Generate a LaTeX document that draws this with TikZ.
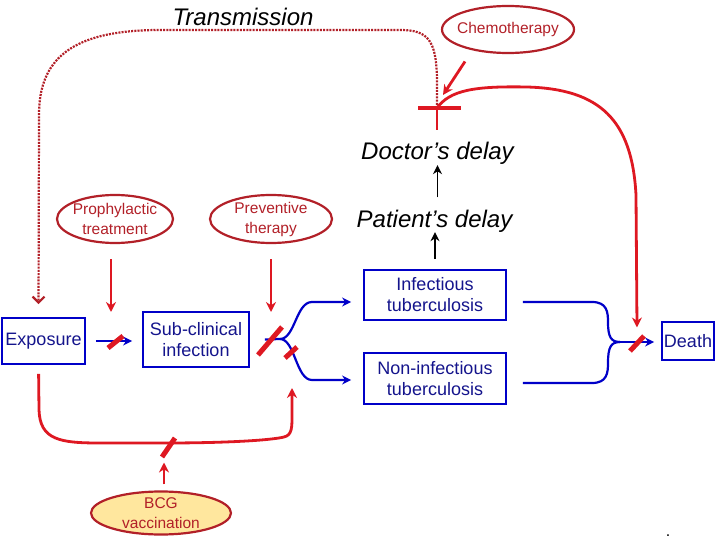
\documentclass[tikz,border=0pt]{standalone}
\usepackage{fontspec}
\setmainfont{Liberation Sans}
\usetikzlibrary{shapes.geometric,arrows.meta}
\definecolor{stageblue}{RGB}{0,0,200}
\definecolor{stagetext}{RGB}{20,20,140}
\definecolor{cutred}{RGB}{222,24,34}
\definecolor{ovalred}{RGB}{178,32,40}
\definecolor{bcgyellow}{RGB}{255,231,158}
\newcommand{\delayFont}[0]{\fontsize{24}{28}\selectfont\itshape}
\newcommand{\stageFont}[0]{\fontsize{18}{21}\selectfont}
\newcommand{\ovalFont}[0]{\fontsize{15.5}{20}\selectfont}

\begin{document}
\begin{tikzpicture}[x=1pt, y=-1pt]
  \tikzset{
    stage/.style={draw=stageblue, line width=1.8pt, text=stagetext, font=\stageFont, align=center, inner sep=0pt},
    oval/.style={ellipse, draw=ovalred, line width=2.2pt, text=ovalred, font=\ovalFont, align=center, inner xsep=-40pt, inner ysep=-15pt},
    delay/.style={font=\delayFont, anchor=base, inner sep=0pt},
    flow/.style={stageblue, line width=2.2pt, -{Stealth[length=9pt, width=9pt]}},
    branch/.style={stageblue, line width=2.2pt},
    block/.style={cutred, line width=2.8pt, -{Stealth[length=10pt, width=10pt]}},
    cut/.style={cutred, line width=5pt},
    spread/.style={ovalred, line width=2.2pt, dash pattern=on 2pt off 1.2pt, -{Straight Barb[length=6pt, width=12pt]}},
    rise/.style={black, line width=1.8pt, -{Stealth[length=9pt, width=9pt]}}
  }
  \useasboundingbox (0,0) rectangle (720,540);
  \node[stage, minimum width=83pt, minimum height=46pt] (Exp-1) at (43.5,341) {Exposure};
  \node[stage, minimum width=106pt, minimum height=55pt] (Sub-1) at (196,339.5) {Sub-clinical\\infection};
  \node[stage, minimum width=142pt, minimum height=50pt] (Inf-1) at (435,295) {Infectious\\tuberculosis};
  \node[stage, minimum width=142pt, minimum height=51pt] (Non-1) at (435,378.5) {Non-infectious\\tuberculosis};
  \node[stage, minimum width=52pt, minimum height=38pt] (Death-1) at (688,341) {Death};
  \node[oval, minimum width=132pt, minimum height=47pt] (Chemo-1) at (508,29.5) {Chemotherapy};
  \node[oval, minimum width=116pt, minimum height=48pt] (Pro-1) at (115,219) {Prophylactic\\treatment};
  \node[oval, minimum width=122pt, minimum height=48pt] (Pre-1) at (271,219) {Preventive\\therapy};
  \node[oval, fill=bcgyellow, minimum width=140pt, minimum height=43pt] (BCG-1) at (161,513) {BCG\\vaccination};
  \node[delay] (Trans-1) at (243,26) {Transmission};
  \node[delay] (Doc-1) at (437.5,160) {Doctor’s delay};
  \node[delay] (Pat-1) at (434.5,227) {Patient’s delay};
  \node[anchor=south, inner sep=0pt, font=\fontsize{16}{16}\selectfont] (Dot-1) at (668,537) {.};
  \coordinate (Stop-1) at (437,108);
  \coordinate (Cut-1) at (115.5,342);
  \coordinate (Cut-2) at (270,341);
  \coordinate (Cut-3) at (291,352.5);
  \coordinate (Cut-4) at (168.5,447.5);
  \coordinate (Cut-5) at (637,343.5);
  \coordinate (Fork-1) at (280,339);
  \coordinate (Merge-1) at (620,342);
  \coordinate (Tip-1) at (292,388);
  \draw[spread, shorten >=13pt] (Stop-1) -- (437,78) .. controls (436,40) and (428,30) .. (400,30) -- (160,30) .. controls (70,30) and (39,60) .. (39,115) -- ([xshift=-5pt]Exp-1.north);
  \draw[cutred, line width=4pt] ([xshift=-19pt]Stop-1) -- ([xshift=24pt]Stop-1);
  \draw[cutred, line width=2.8pt, shorten >=12pt] (Stop-1) -- (Stop-1 |- Doc-1.north);
  \draw[block] (Stop-1) .. controls (450,90) and (475,86) .. (527,87) .. controls (600,89) and (632,120) .. (636,195) -- ([yshift=16pt]Cut-5);
  \draw[block] ([shift={(-43,32)}]Chemo-1.center) -- ([shift={(6,-13)}]Stop-1);
  \draw[rise, shorten <=10pt] (Inf-1.north) -- (Inf-1.north |- Pat-1.south);
  \draw[rise, shorten <=12pt] (Doc-1.south |- Pat-1.north) -- (Doc-1.south);
  \draw[block, shorten <=15pt, shorten >=30pt] ([xshift=-4pt]Pro-1.south) -- ([xshift=-4pt]Pro-1.south |- Cut-1);
  \draw[block, shorten <=15pt, shorten >=29pt] (Pre-1.south) -- (Pre-1.south |- Cut-2);
  \draw[flow, shorten <=10pt, shorten >=10pt] (Exp-1.east) -- (Exp-1.east -| Sub-1.west);
  \draw[flow, shorten >=12pt] ([xshift=15pt]Sub-1.east) -- (Fork-1) .. controls (295,339) and (296,302) .. (312,302) -- ([yshift=-7pt]Inf-1.west);
  \draw[flow, shorten >=12pt] (Fork-1) .. controls (295,339) and (296,380) .. (312,380) -- ([yshift=-1.5pt]Non-1.west);
  \draw[branch, shorten <=16pt] ([yshift=-7pt]Inf-1.east) -- (592,302) .. controls (607,302) and (608,312) .. (608,322) .. controls (608,337) and (611,342) .. (Merge-1);
  \draw[branch, shorten <=16pt] ([yshift=-4.5pt]Non-1.east) -- (592,383) .. controls (607,383) and (608,373) .. (608,363) .. controls (608,347) and (611,342) .. (Merge-1);
  \draw[flow, shorten >=7pt] (Merge-1) -- (Merge-1 -| Death-1.west);
  \draw[block, shorten <=9pt] ([xshift=-5pt]Exp-1.south) -- (39,410) .. controls (40,440) and (60,443) .. (100,443) -- (165,443) .. controls (230,443) and (272,440) .. (284,437) .. controls (292,435) and (292,428) .. (292,415) -- (Tip-1);
  \draw[block, shorten <=6pt, shorten >=15pt] ([xshift=3pt]BCG-1.north) -- ([xshift=3pt]BCG-1.north |- Cut-4);
  \draw[cut] ([shift={(-7.5,6)}]Cut-1) -- ([shift={(7.5,-6)}]Cut-1);
  \draw[cut] ([shift={(-12,14)}]Cut-2) -- ([shift={(12,-14)}]Cut-2);
  \draw[cut] ([shift={(-6,5.5)}]Cut-3) -- ([shift={(6,-5.5)}]Cut-3);
  \draw[cut] ([shift={(-6.5,9.5)}]Cut-4) -- ([shift={(6.5,-9.5)}]Cut-4);
  \draw[cut] ([shift={(-7,7.5)}]Cut-5) -- ([shift={(7,-7.5)}]Cut-5);
\end{tikzpicture}
\end{document}
